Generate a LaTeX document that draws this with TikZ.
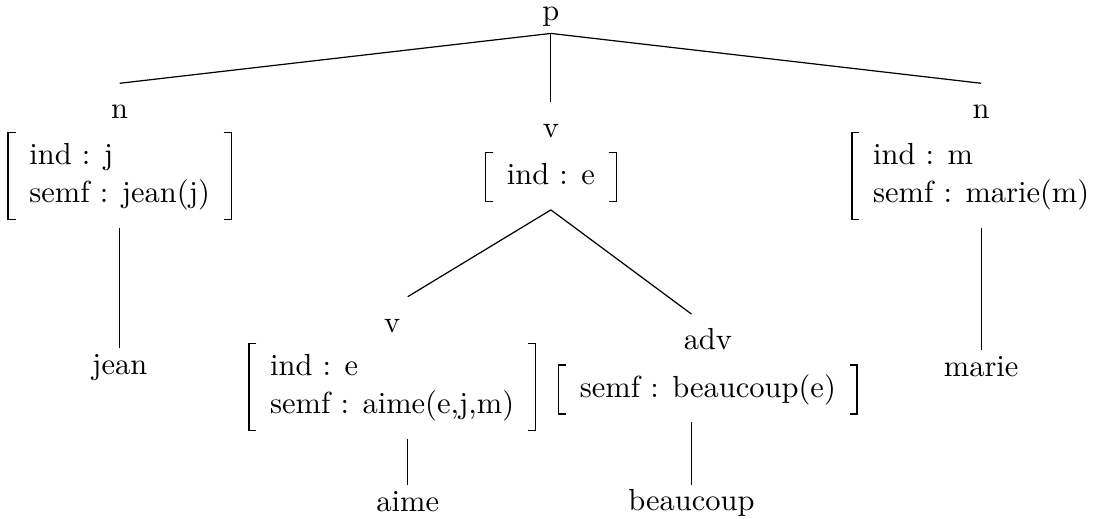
\documentclass[tikz,border=0pt]{standalone}
\usepackage{tikz}
\renewcommand{\arraystretch}{1.05}

\tikzset{
  cat/.style={anchor=base, text height=1.5ex, inner xsep=2pt, inner ysep=5pt},
  leaf/.style={anchor=base, text height=1.5ex, inner sep=2pt},
  avm/.style={inner xsep=7.5pt, inner ysep=2.2pt, outer sep=2.3pt,
    path picture={
      \draw[line width=.5pt] ([xshift=3pt,yshift=-.5pt]path picture bounding box.north west)
        -| ([xshift=.5pt,yshift=.5pt]path picture bounding box.south west) -- ++(2.5pt,0);
      \draw[line width=.5pt] ([xshift=-3pt,yshift=-.5pt]path picture bounding box.north east)
        -| ([xshift=-.5pt,yshift=.5pt]path picture bounding box.south east) -- ++(-2.5pt,0);
    }}
}

\begin{document}
\begin{tikzpicture}
            \useasboundingbox (0,0) rectangle (12.68,5.98);
            % root
            \node[cat, inner ysep=2pt] (p) at (6.35,5.74) {p};
            % subject
            \node[cat] (n1) at (1.38,4.61) {n};
            \node[avm] (n1avm) at (1.38,3.95) {\begin{tabular}{@{}l@{}}ind : j\\semf : jean(j)\end{tabular}};
            \node[leaf] (jean) at (1.38,1.66) {jean};
            % verb phrase
            \node[cat] (vtop) at (6.35,4.39) {v};
            \node[avm] (vtopavm) at (6.35,3.94) {\begin{tabular}{@{}l@{}}ind : e\end{tabular}};
            \node[cat] (vlow) at (4.52,2.15) {v};
            \node[avm] (vlowavm) at (4.52,1.52) {\begin{tabular}{@{}l@{}}ind : e\\semf : aime(e,j,m)\end{tabular}};
            \node[leaf] (aime) at (4.70,0.08) {aime};
            \node[cat] (adv) at (8.16,1.95) {adv};
            \node[avm] (advavm) at (8.16,1.49) {\begin{tabular}{@{}l@{}}semf : beaucoup(e)\end{tabular}};
            \node[leaf] (beaucoup) at (7.97,0.09) {beaucoup};
            % object
            \node[cat] (n2) at (11.31,4.61) {n};
            \node[avm] (n2avm) at (11.31,3.95) {\begin{tabular}{@{}l@{}}ind : m\\semf : marie(m)\end{tabular}};
            \node[leaf] (marie) at (11.31,1.64) {marie};
            % edges
            \foreach \c in {n1,vtop,n2}{
                \draw (p.south) -- (\c.north);
            }
            \draw (vtopavm.south) -- (vlow.north -| aime.north);
            \draw (vtopavm.south) -- (adv.north -| beaucoup.north);
            \draw (n1avm.south) -- (jean.north);
            \draw (vlowavm.south -| aime.north) -- (aime.north);
            \draw (advavm.south -| beaucoup.north) -- (beaucoup.north);
            \draw (n2avm.south) -- (marie.north);
        \end{tikzpicture}
\end{document}
